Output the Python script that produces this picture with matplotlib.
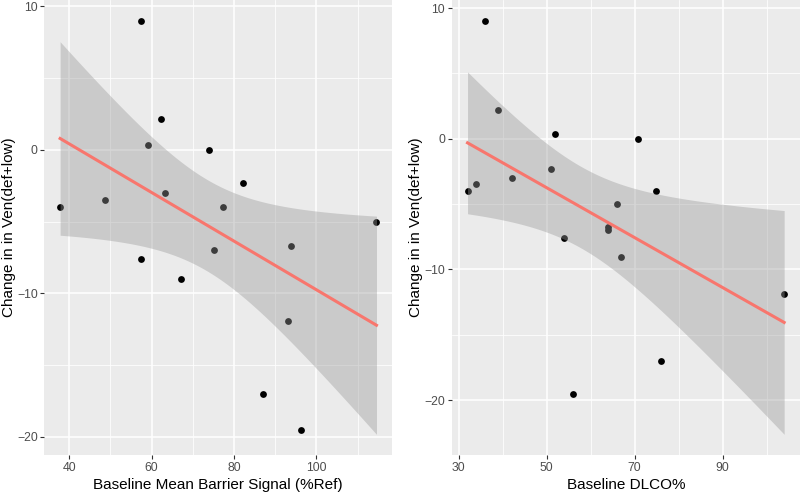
import numpy as np
import matplotlib
matplotlib.use("Agg")
import matplotlib.pyplot as plt
from matplotlib.ticker import FixedLocator

plt.rcParams['font.family'] = ['Liberation Sans', 'DejaVu Sans']

# Left panel data
barrier_x = [37.8, 48.7, 57.4, 62.3, 59.2, 63.3, 74.0, 82.1, 77.3, 114.6,
             93.9, 75.1, 57.4, 67.2, 93.0, 87.0, 96.3]
barrier_y = [-4.0, -3.5, 9.0, 2.16, 0.33, -3.0, 0.0, -2.3, -4.0, -5.0,
             -6.68, -7.0, -7.58, -9.0, -11.9, -17.0, -19.5]

# Right panel data
dlco_x = [32.0, 34.0, 36.0, 39.0, 42.0, 50.9, 51.9, 54.0, 63.9, 63.9,
          65.9, 67.0, 70.8, 74.9, 75.9, 55.9, 104.0]
dlco_y = [-4.0, -3.5, 9.03, 2.2, -3.0, -2.3, 0.33, -7.57, -6.76, -7.0,
          -5.0, -9.03, 0.0, -4.0, -17.0, -19.5, -11.9]

y_label = "Change in in Ven(def+low)"
x_labels = ["Baseline Mean Barrier Signal (%Ref)", "Baseline DLCO%"]
x_major = [[40, 60, 80, 100], [30, 50, 70, 90]]
x_minor = [[50, 70, 90, 110], [40, 60, 80, 100]]
y_major = [-20, -10, 0, 10]
y_minor = [-15, -5, 5]

T975 = 2.131  # t quantile, df = 15

BG = "#EBEBEB"


def smooth(x, y):
    x = np.asarray(x, float)
    y = np.asarray(y, float)
    n = len(x)
    b1, b0 = np.polyfit(x, y, 1)
    resid = y - (b0 + b1 * x)
    s = np.sqrt(np.sum(resid ** 2) / (n - 2))
    xs = np.linspace(x.min(), x.max(), 80)
    fit = b0 + b1 * xs
    se = s * np.sqrt(1.0 / n + (xs - x.mean()) ** 2 / np.sum((x - x.mean()) ** 2))
    return xs, fit, fit - T975 * se, fit + T975 * se


fig = plt.figure(figsize=(8, 4.94), dpi=100)
W, H = 800, 494
panels = [(44.3, 392.3), (451.7, 800)]
top, bottom = 0, 455

datasets = [(barrier_x, barrier_y), (dlco_x, dlco_y)]
for i, ((l, r), (x, y)) in enumerate(zip(panels, datasets)):
    ax = fig.add_axes([l / W, 1 - bottom / H, (r - l) / W, (bottom - top) / H])
    ax.set_facecolor(BG)
    for sp in ax.spines.values():
        sp.set_visible(False)
    xs, fit, lo, hi = smooth(x, y)
    ax.scatter(x, y, s=24, color="black", zorder=3, linewidths=0)
    ax.fill_between(xs, lo, hi, color="#999999", alpha=0.4, linewidth=0, zorder=4)
    ax.plot(xs, fit, color="#F8766D", lw=2.2, zorder=5)

    xmin, xmax = min(x), max(x)
    ymin = min(min(y), lo.min())
    ymax = max(max(y), hi.max())
    dx = 0.05 * (xmax - xmin)
    dy = 0.05 * (ymax - ymin)
    ax.set_xlim(xmin - dx, xmax + dx)
    ax.set_ylim(ymin - dy, ymax + dy)

    ax.xaxis.set_major_locator(FixedLocator(x_major[i]))
    ax.xaxis.set_minor_locator(FixedLocator(x_minor[i]))
    ax.yaxis.set_major_locator(FixedLocator(y_major))
    ax.yaxis.set_minor_locator(FixedLocator(y_minor))
    ax.grid(which="major", color="white", lw=1.1, zorder=0)
    ax.grid(which="minor", color="white", lw=0.55, zorder=0)
    ax.set_axisbelow(True)
    ax.tick_params(which="major", length=2.75, width=0.8, color="#333333",
                   labelsize=8.8, labelcolor="#4D4D4D", pad=2)
    ax.tick_params(which="minor", length=0)
    ax.set_xlabel(x_labels[i], fontsize=11, color="black", labelpad=3)
    ax.set_ylabel(y_label, fontsize=11, color="black", labelpad=1)

fig.savefig("out.png", dpi=100)
